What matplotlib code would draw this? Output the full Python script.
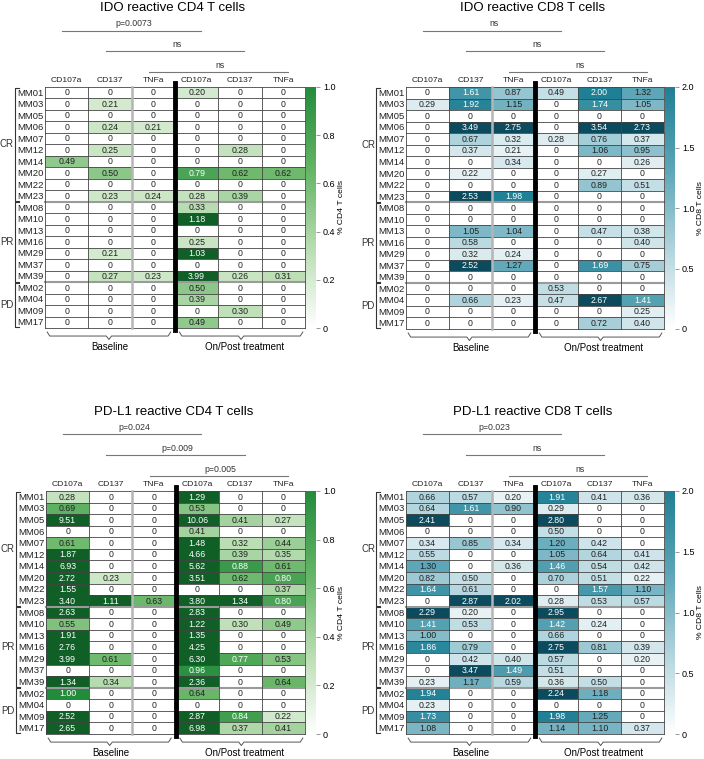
import matplotlib
matplotlib.use('Agg')
import matplotlib.pyplot as plt
import numpy as np
from matplotlib.colors import LinearSegmentedColormap, Normalize
from matplotlib.cm import ScalarMappable

plt.rcParams['font.family'] = ['Liberation Sans', 'DejaVu Sans']

W, H = 704, 759

patients = ['MM01', 'MM03', 'MM05', 'MM06', 'MM07', 'MM12', 'MM14', 'MM20', 'MM22', 'MM23',
            'MM08', 'MM10', 'MM13', 'MM16', 'MM29', 'MM37', 'MM39',
            'MM02', 'MM04', 'MM09', 'MM17']
groups = ['CR', 'PR', 'PD']
group_sizes = [10, 7, 4]
markers = ['CD107a', 'CD137', 'TNFa', 'CD107a', 'CD137', 'TNFa']
timepoints = ['Baseline', 'On/Post treatment']

# columns: baseline CD107a, CD137, TNFa | on/post CD107a, CD137, TNFa
ido_cd4 = np.array([
    [0, 0, 0, 0.20, 0, 0],
    [0, 0.21, 0, 0, 0, 0],
    [0, 0, 0, 0, 0, 0],
    [0, 0.24, 0.21, 0, 0, 0],
    [0, 0, 0, 0, 0, 0],
    [0, 0.25, 0, 0, 0.28, 0],
    [0.49, 0, 0, 0, 0, 0],
    [0, 0.50, 0, 0.79, 0.62, 0.62],
    [0, 0, 0, 0, 0, 0],
    [0, 0.23, 0.24, 0.28, 0.39, 0],
    [0, 0, 0, 0.33, 0, 0],
    [0, 0, 0, 1.18, 0, 0],
    [0, 0, 0, 0, 0, 0],
    [0, 0, 0, 0.25, 0, 0],
    [0, 0.21, 0, 1.03, 0, 0],
    [0, 0, 0, 0, 0, 0],
    [0, 0.27, 0.23, 3.99, 0.26, 0.31],
    [0, 0, 0, 0.50, 0, 0],
    [0, 0, 0, 0.39, 0, 0],
    [0, 0, 0, 0, 0.30, 0],
    [0, 0, 0, 0.49, 0, 0],
])

ido_cd8 = np.array([
    [0, 1.61, 0.87, 0.49, 2.00, 1.32],
    [0.29, 1.92, 1.15, 0, 1.74, 1.05],
    [0, 0, 0, 0, 0, 0],
    [0, 3.49, 2.75, 0, 3.54, 2.73],
    [0, 0.67, 0.32, 0.28, 0.76, 0.37],
    [0, 0.37, 0.21, 0, 1.06, 0.95],
    [0, 0, 0.34, 0, 0, 0.26],
    [0, 0.22, 0, 0, 0.27, 0],
    [0, 0, 0, 0, 0.89, 0.51],
    [0, 2.53, 1.98, 0, 0, 0],
    [0, 0, 0, 0, 0, 0],
    [0, 0, 0, 0, 0, 0],
    [0, 1.05, 1.04, 0, 0.47, 0.38],
    [0, 0.58, 0, 0, 0, 0.40],
    [0, 0.32, 0.24, 0, 0, 0],
    [0, 2.52, 1.27, 0, 1.69, 0.75],
    [0, 0, 0, 0, 0, 0],
    [0, 0, 0, 0.53, 0, 0],
    [0, 0.66, 0.23, 0.47, 2.67, 1.41],
    [0, 0, 0, 0, 0, 0.25],
    [0, 0, 0, 0, 0.72, 0.40],
])

pdl1_cd4 = np.array([
    [0.28, 0, 0, 1.29, 0, 0],
    [0.69, 0, 0, 0.53, 0, 0],
    [9.51, 0, 0, 10.06, 0.41, 0.27],
    [0, 0, 0, 0.41, 0, 0],
    [0.61, 0, 0, 1.48, 0.32, 0.44],
    [1.87, 0, 0, 4.66, 0.39, 0.35],
    [6.93, 0, 0, 5.62, 0.88, 0.61],
    [2.72, 0.23, 0, 3.51, 0.62, 0.80],
    [1.55, 0, 0, 0, 0, 0.37],
    [3.40, 1.11, 0.63, 3.80, 1.34, 0.80],
    [2.63, 0, 0, 2.83, 0, 0],
    [0.55, 0, 0, 1.22, 0.30, 0.49],
    [1.91, 0, 0, 1.35, 0, 0],
    [2.76, 0, 0, 4.25, 0, 0],
    [3.99, 0.61, 0, 6.30, 0.77, 0.53],
    [0, 0, 0, 0.96, 0, 0],
    [1.34, 0.34, 0, 2.36, 0, 0.64],
    [1.00, 0, 0, 0.64, 0, 0],
    [0, 0, 0, 0, 0, 0],
    [2.52, 0, 0, 2.87, 0.84, 0.22],
    [2.65, 0, 0, 6.98, 0.37, 0.41],
])

pdl1_cd8 = np.array([
    [0.66, 0.57, 0.20, 1.91, 0.41, 0.36],
    [0.64, 1.61, 0.90, 0.29, 0, 0],
    [2.41, 0, 0, 2.80, 0, 0],
    [0, 0, 0, 0.50, 0, 0],
    [0.34, 0.85, 0.34, 1.20, 0.42, 0],
    [0.55, 0, 0, 1.05, 0.64, 0.41],
    [1.30, 0, 0.36, 1.46, 0.54, 0.42],
    [0.82, 0.50, 0, 0.70, 0.51, 0.22],
    [1.64, 0.61, 0, 0, 1.57, 1.10],
    [0, 2.87, 2.02, 0.28, 0.53, 0.57],
    [2.29, 0.20, 0, 2.95, 0, 0],
    [1.41, 0.53, 0, 1.42, 0.24, 0],
    [1.00, 0, 0, 0.66, 0, 0],
    [1.86, 0.79, 0, 2.75, 0.81, 0.39],
    [0, 0.42, 0.40, 0.57, 0, 0.20],
    [0, 3.47, 1.49, 0.51, 0, 0],
    [0.23, 1.17, 0.59, 0.36, 0.50, 0],
    [1.94, 0, 0, 2.24, 1.18, 0],
    [0.23, 0, 0, 0, 0, 0],
    [1.73, 0, 0, 1.98, 1.25, 0],
    [1.08, 0, 0, 1.14, 1.10, 0.37],
])

ido_cd4_stats = ['p=0.0073', 'ns', 'ns']
ido_cd8_stats = ['ns', 'ns', 'ns']
pdl1_cd4_stats = ['p=0.024', 'p=0.009', 'p=0.005']
pdl1_cd8_stats = ['p=0.023', 'ns', 'ns']

cd4_ticks = [0, 0.2, 0.4, 0.6, 0.8, 1.0]
cd8_ticks = [0, 0.5, 1.0, 1.5, 2.0]

greens = LinearSegmentedColormap.from_list(
    'gr', [(0, '#ffffff'), (0.3, '#bfe0b8'), (0.65, '#66b567'), (1, '#238c3b')])
greens.set_over('#0f5f27')
teals = LinearSegmentedColormap.from_list(
    'tl', [(0, '#ffffff'), (0.3, '#b8d8e0'), (0.65, '#5ea7b8'), (1, '#1f7f94')])
teals.set_over('#0c4b5d')

fig = plt.figure(figsize=(W / 100, H / 100), dpi=100)


def brace(ax, xa, xb, y):
    xc = (xa + xb) / 2
    xs = [xa, xa + 0.06, xc - 0.06, xc, xc + 0.06, xb - 0.06, xb]
    ys = [y, y + 0.35, y + 0.35, y + 0.65, y + 0.35, y + 0.35, y]
    ax.plot(xs, ys, color='#555555', lw=0.7, clip_on=False)


def draw_panel(title, data, cmap, vmax, ticks, clabel, stats, box):
    x0, y0, x1, y1 = box
    ax = fig.add_axes([x0 / W, 1 - y1 / H, (x1 - x0) / W, (y1 - y0) / H])
    nrow, ncol = data.shape
    norm = Normalize(0, vmax)
    ax.pcolormesh(np.arange(ncol + 1), np.arange(nrow + 1), data, cmap=cmap, norm=norm)
    ax.set_xlim(0, ncol)
    ax.set_ylim(nrow, 0)
    ax.axis('off')

    for i in range(nrow):
        for j in range(ncol):
            v = data[i, j]
            txt = '0' if v == 0 else f'{v:.2f}'
            col = 'white' if v >= 0.7 * vmax else '#222222'
            ax.text(j + 0.5, i + 0.52, txt, ha='center', va='center', fontsize=6.3, color=col)

    bounds = list(np.cumsum(group_sizes)[:-1])
    for i in range(nrow + 1):
        if i in bounds:
            ax.plot([0, ncol], [i, i], color='#9a9a9a', lw=1.5, clip_on=False)
        else:
            ax.plot([0, ncol], [i, i], color='#444444', lw=0.6, clip_on=False)
    for j in [0, 1, 4, 5, 6]:
        ax.plot([j, j], [0, nrow], color='#444444', lw=0.6, clip_on=False)
    ax.plot([2, 2], [0, nrow], color='#b5b5b5', lw=1.8, clip_on=False)
    ax.plot([3, 3], [-0.35, nrow + 0.2], color='black', lw=3.5, clip_on=False)

    # column headers and row labels
    for j, m in enumerate(markers):
        ax.text(j + 0.5, -0.55, m, ha='center', va='center', fontsize=6.1, color='#222222')
    for i, p in enumerate(patients):
        ax.text(-0.04, i + 0.55, p, ha='right', va='center', fontsize=6.8, color='#222222')

    # response group brackets
    start = 0
    for g, n in zip(groups, group_sizes):
        ya, yb = start + 0.05, start + n - 0.05
        ax.plot([-0.6, -0.69, -0.69, -0.6], [ya, ya, yb, yb], color='#333333', lw=0.8, clip_on=False)
        ax.text(-0.72, start + n / 2, g, ha='right', va='center', fontsize=7, color='#333333')
        start += n

    # comparison lines
    for k, s in enumerate(stats):
        ly = -4.9 + 1.8 * k
        ax.plot([k + 0.4, k + 3.6], [ly, ly], color='#777777', lw=0.8, clip_on=False)
        ax.text(k + 2.05, ly - 0.6, s, ha='center', va='center', fontsize=6.3, color='#333333')

    ax.text(2.95, -6.85, title, ha='center', va='center', fontsize=9.5, color='black')

    # timepoint braces
    brace(ax, 0.05, 2.9, nrow + 0.35)
    brace(ax, 3.1, 5.95, nrow + 0.35)
    ax.text(1.5, nrow + 1.65, timepoints[0], ha='center', va='center', fontsize=7)
    ax.text(4.6, nrow + 1.65, timepoints[1], ha='center', va='center', fontsize=7)

    cax = fig.add_axes([(x1 + 1) / W, 1 - y1 / H, 10 / W, (y1 - y0) / H])
    cb = fig.colorbar(ScalarMappable(norm=norm, cmap=cmap), cax=cax)
    cb.outline.set_visible(False)
    cb.set_ticks(ticks)
    cb.set_ticklabels(['0'] + [f'{t:.1f}' for t in ticks[1:]])
    cax.tick_params(labelsize=6.5, length=3, width=0.6, color='#888888', pad=2)
    cb.set_label(clabel, fontsize=6.1)
    cax.yaxis.set_label_coords(3.2, 0.5)


draw_panel('IDO reactive CD4 T cells', ido_cd4, greens, 1.0, cd4_ticks,
           '% CD4 T cells', ido_cd4_stats, (45, 87, 305, 328))
draw_panel('IDO reactive CD8 T cells', ido_cd8, teals, 2.0, cd8_ticks,
           '% CD8 T cells', ido_cd8_stats, (406, 87, 664, 329))
draw_panel('PD-L1 reactive CD4 T cells', pdl1_cd4, greens, 1.0, cd4_ticks,
           '% CD4 T cells', pdl1_cd4_stats, (46, 491, 305, 734))
draw_panel('PD-L1 reactive CD8 T cells', pdl1_cd8, teals, 2.0, cd8_ticks,
           '% CD8 T cells', pdl1_cd8_stats, (406, 491, 664, 734))

fig.savefig('out.png', dpi=100)
